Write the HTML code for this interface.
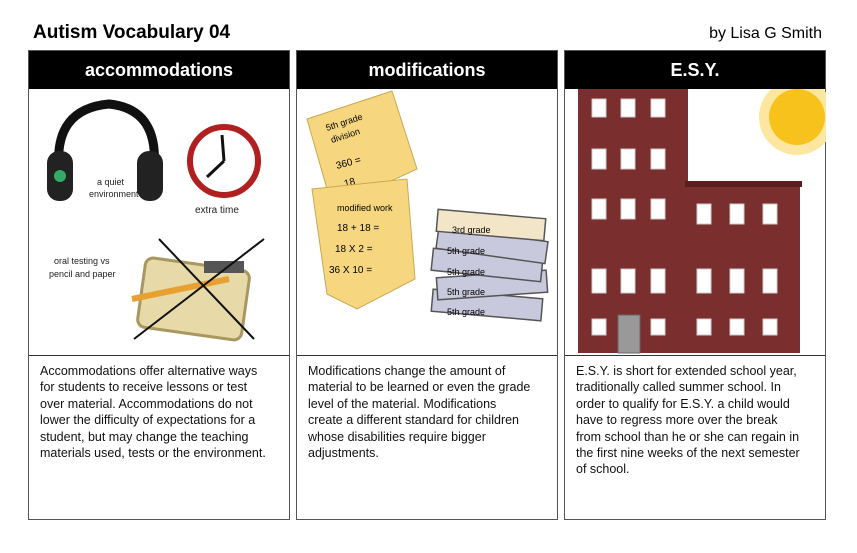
<!DOCTYPE html>
<html><head><meta charset="utf-8"><style>
body{margin:0;width:857px;height:553px;background:#fff;font-family:"Liberation Sans","DejaVu Sans",sans-serif;position:relative;overflow:hidden}
.t{position:absolute;font-weight:bold}
.p{position:absolute;top:50px;width:262px;height:470px;border:1px solid #555;box-sizing:border-box}
.h{background:#000;color:#fff;height:38px;line-height:38px;text-align:center;font-size:18px;font-weight:bold}
.img{height:266px;border-bottom:1px solid #333;position:relative}
.tx{padding:7px 0 0 11px;font-size:12.5px;line-height:16.4px;color:#111;white-space:nowrap}
svg{position:absolute;left:0;top:0}
</style></head><body>
<div class="t" style="left:33px;top:22px;font-size:19px">Autism Vocabulary 04</div>
<div style="position:absolute;right:35px;top:25px;font-size:16px">by Lisa G Smith</div>

<div class="p" style="left:28px"><div class="h">accommodations</div>
<div class="img"><svg width="261" height="266">
<path d="M30 80 Q25 20 80 15 Q130 20 125 80" fill="none" stroke="#111" stroke-width="9"/>
<rect x="18" y="62" width="26" height="50" rx="12" fill="#222"/>
<rect x="108" y="62" width="26" height="50" rx="12" fill="#222"/>
<circle cx="31" cy="87" r="6" fill="#3a6"/>
<text x="68" y="96" font-size="9" fill="#222">a quiet</text><text x="60" y="108" font-size="9" fill="#222">environment</text>
<circle cx="195" cy="72" r="34" fill="#fff" stroke="#b02020" stroke-width="6"/>
<line x1="195" y1="72" x2="193" y2="46" stroke="#111" stroke-width="3"/><line x1="195" y1="72" x2="178" y2="88" stroke="#111" stroke-width="3"/>
<text x="166" y="124" font-size="10" fill="#222">extra time</text>
<text x="25" y="175" font-size="9" fill="#222">oral testing vs</text><text x="20" y="188" font-size="9" fill="#222">pencil and paper</text>
<rect x="112" y="175" width="105" height="70" rx="8" fill="#e8d9a8" stroke="#a89860" stroke-width="3" transform="rotate(8 165 210)"/>
<rect x="175" y="172" width="40" height="12" fill="#555"/>
<line x1="103" y1="210" x2="200" y2="190" stroke="#e8a030" stroke-width="6"/>
<line x1="130" y1="150" x2="225" y2="250" stroke="#111" stroke-width="2"/><line x1="235" y1="150" x2="105" y2="250" stroke="#111" stroke-width="2"/>
</svg></div>
<div class="tx">Accommodations offer alternative ways<br>for students to receive lessons or test<br>over material. Accommodations do not<br>lower the difficulty of expectations for a<br>student, but may change the teaching<br>materials used, tests or the environment.</div></div>

<div class="p" style="left:296px"><div class="h">modifications</div>
<div class="img"><svg width="261" height="266">
<polygon points="10,30 95,2 120,80 55,110 30,100" fill="#f6d780" stroke="#c9a850"/>
<text x="30" y="42" font-size="9" transform="rotate(-18 30 42)">5th grade</text><text x="35" y="54" font-size="9" transform="rotate(-18 35 54)">division</text>
<text x="40" y="80" font-size="10" transform="rotate(-15 40 80)">360  =</text><text x="48" y="98" font-size="10" transform="rotate(-15 48 98)">18</text>
<polygon points="15,100 110,90 118,190 60,220 30,205" fill="#f6d780" stroke="#c9a850"/>
<text x="40" y="122" font-size="9">modified work</text><text x="40" y="142" font-size="10">18 + 18 =</text><text x="38" y="163" font-size="10">18 X 2 =</text><text x="32" y="184" font-size="10">36 X 10 =</text>
<g fill="#c9c9dd" stroke="#555" stroke-width="1.5">
<rect x="135" y="205" width="110" height="22" transform="rotate(5 190 216)"/>
<rect x="140" y="185" width="110" height="22" transform="rotate(-4 195 196)"/>
<rect x="135" y="165" width="110" height="22" transform="rotate(6 190 176)"/>
<rect x="140" y="145" width="110" height="22" transform="rotate(8 195 156)"/>
<rect x="140" y="125" width="108" height="22" transform="rotate(5 194 136)" fill="#f3e6c8"/>
</g>
<text x="155" y="144" font-size="9">3rd grade</text><text x="150" y="165" font-size="9">5th grade</text><text x="150" y="186" font-size="9">5th grade</text><text x="150" y="206" font-size="9">5th grade</text><text x="150" y="226" font-size="9">5th grade</text>
</svg></div>
<div class="tx">Modifications change the amount of<br>material to be learned or even the grade<br>level of the material. Modifications<br>create a different standard for children<br>whose disabilities require bigger<br>adjustments.</div></div>

<div class="p" style="left:564px"><div class="h">E.S.Y.</div>
<div class="img"><svg width="261" height="266">
<circle cx="232" cy="28" r="38" fill="#fde7a0"/><circle cx="232" cy="28" r="28" fill="#f7c21c"/>
<rect x="13" y="0" width="110" height="264" fill="#7a2e2e"/>
<rect x="120" y="95" width="115" height="169" fill="#7a2e2e"/>
<rect x="120" y="92" width="117" height="6" fill="#5a1e1e"/>
<g fill="#fff" stroke="#ccc">
<rect x="27" y="10" width="14" height="18"/><rect x="56" y="10" width="14" height="18"/><rect x="86" y="10" width="14" height="18"/>
<rect x="27" y="60" width="14" height="20"/><rect x="56" y="60" width="14" height="20"/><rect x="86" y="60" width="14" height="20"/>
<rect x="27" y="110" width="14" height="20"/><rect x="56" y="110" width="14" height="20"/><rect x="86" y="110" width="14" height="20"/>
<rect x="27" y="180" width="14" height="24"/><rect x="56" y="180" width="14" height="24"/><rect x="86" y="180" width="14" height="24"/>
<rect x="132" y="115" width="14" height="20"/><rect x="165" y="115" width="14" height="20"/><rect x="198" y="115" width="14" height="20"/>
<rect x="132" y="180" width="14" height="24"/><rect x="165" y="180" width="14" height="24"/><rect x="198" y="180" width="14" height="24"/>
<rect x="27" y="230" width="14" height="16"/><rect x="86" y="230" width="14" height="16"/>
<rect x="132" y="230" width="14" height="16"/><rect x="165" y="230" width="14" height="16"/><rect x="198" y="230" width="14" height="16"/>
</g>
<rect x="53" y="226" width="22" height="38" fill="#999" stroke="#666"/>
</svg></div>
<div class="tx">E.S.Y. is short for extended school year,<br>traditionally called summer school. In<br>order to qualify for E.S.Y. a child would<br>have to regress more over the break<br>from school than he or she can regain in<br>the first nine weeks of the next semester<br>of school.</div></div>
</body></html>
